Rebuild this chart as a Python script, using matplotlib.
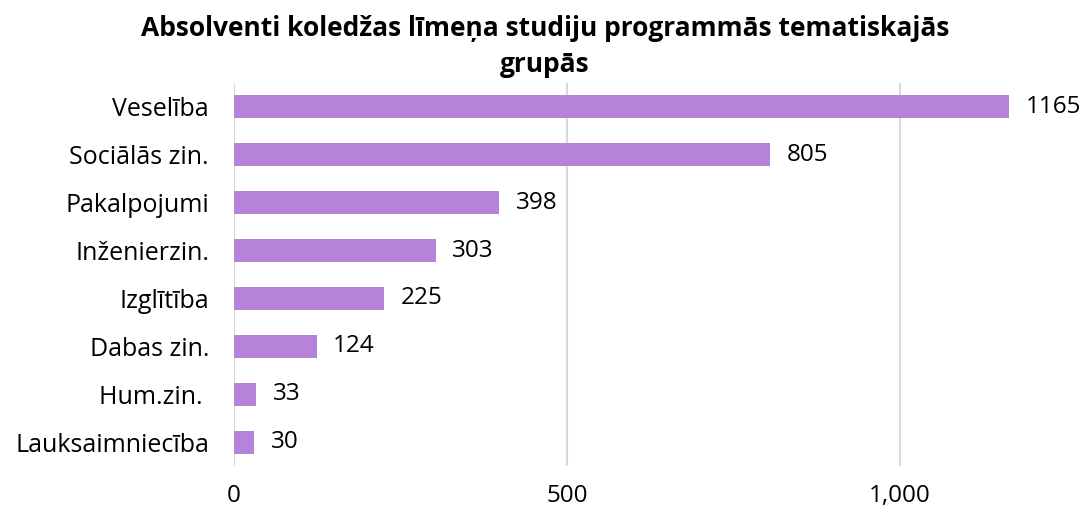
import matplotlib
matplotlib.use("Agg")
import matplotlib.pyplot as plt

plt.rcParams['font.family'] = ['Open Sans', 'DejaVu Sans']

# data
categories = ["Veselība", "Sociālās zin.", "Pakalpojumi", "Inženierzin.",
              "Izglītība", "Dabas zin.", "Hum.zin. ", "Lauksaimniecība"]
values = [1165, 805, 398, 303, 225, 124, 33, 30]
xticks = [0, 500, 1000]
xtick_labels = ["0", "500", "1,000"]

fig = plt.figure(figsize=(10.86, 5.15), dpi=100)
ax = fig.add_axes([0.2155, 0.0951, 0.951 - 0.2155, 0.8388 - 0.0951])

pos = list(range(len(categories)))
ax.barh(pos, values, height=0.48, color="#B584DA", zorder=3)

for p, v in zip(pos, values):
    ax.text(v + 25, p, str(v), va="center", ha="left", fontsize=17.5, color="#000000")

ax.set_yticks(pos)
ax.set_yticklabels(categories, fontsize=18)
ax.set_ylim(len(categories) - 0.5, -0.5)
ax.set_xlim(0, 1200)
ax.set_xticks(xticks)
ax.set_xticklabels(xtick_labels, fontsize=17.5)

ax.grid(axis="x", color="#D9D9D9", linewidth=1.5, zorder=0)
for s in ax.spines.values():
    s.set_visible(False)
ax.tick_params(axis="both", length=0)
ax.tick_params(axis="x", pad=13)
ax.tick_params(axis="y", pad=18)

fig.suptitle("Absolventi koledžas līmeņa studiju programmās tematiskajās\ngrupās",
             fontsize=19, fontweight="bold", x=0.502, y=0.97, linespacing=1.4)

fig.savefig("out.png", dpi=100)
